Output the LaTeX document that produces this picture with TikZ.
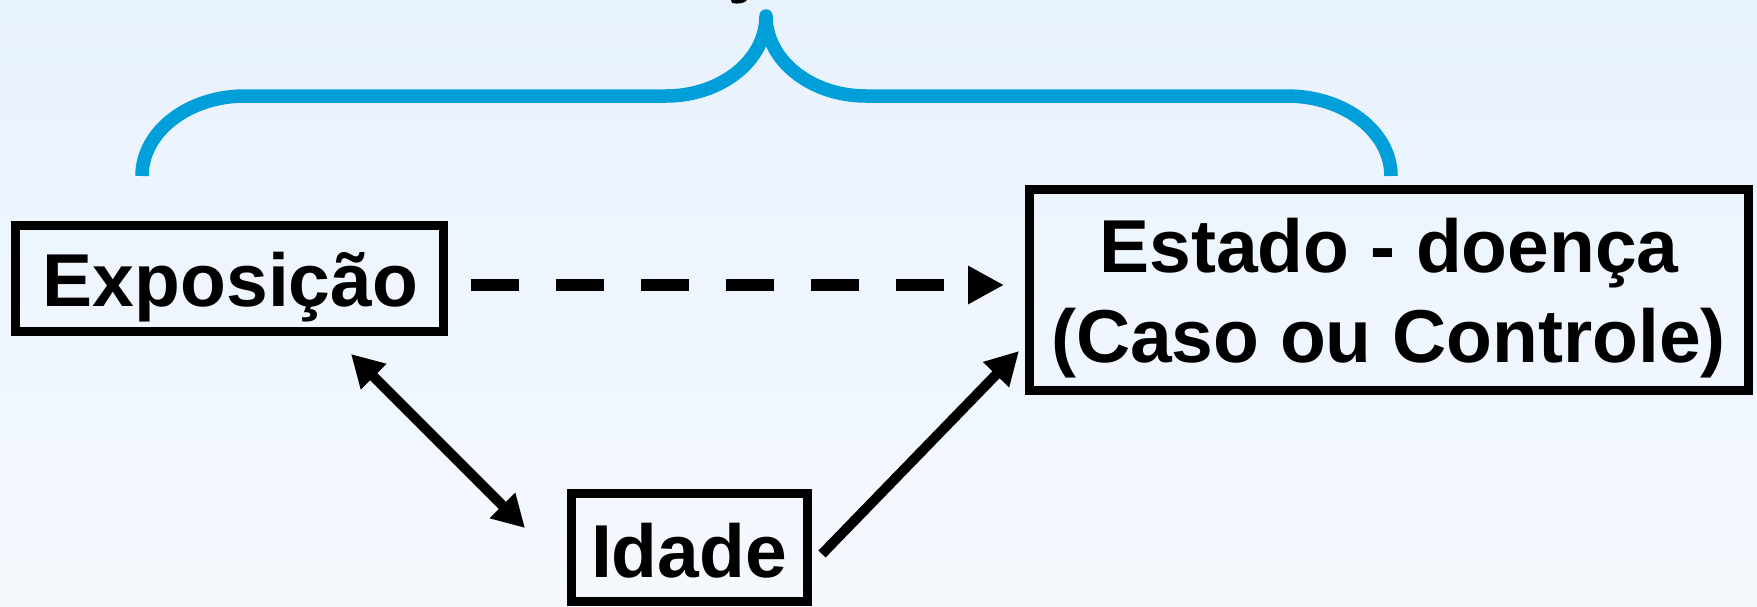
\documentclass[tikz,border=0pt]{standalone}
\usepackage{fontspec}
\setmainfont{Liberation Sans}
\usetikzlibrary{arrows.meta,calc}
\definecolor{brk}{RGB}{0,159,218}
\definecolor{bgtop}{RGB}{232,242,253}
\definecolor{bgbot}{RGB}{245,249,254}
\begin{document}
\begin{tikzpicture}[x=1pt,y=-1pt,
  box/.style={draw=black, line width=9pt, inner sep=0pt},
  lbl/.style={inner sep=0pt, anchor=base, font=\fontsize{75}{90}\selectfont\bfseries},
  arr/.style={line width=10pt, -{Triangle[length=33pt,width=34pt]}},
  dblarr/.style={line width=10pt, {Triangle[length=32pt,width=34pt]}-{Triangle[length=32pt,width=34pt]}},
  dasharr/.style={line width=12pt, dash pattern=on 48pt off 37pt, -{Triangle[length=36pt,width=36pt]}},
  bracket/.style={draw=brk, line width=13.5pt, line join=round}]
\useasboundingbox (0,0) rectangle (1757,606);
\shade[top color=bgtop, bottom color=bgbot] (0,0) rectangle (1757,606);

% cut-off glyph fragment at the top edge
\fill[black] (731,0) -- (747,0) .. controls (745,3) and (738,4.5) .. (732,3) -- cycle;

% bracket
\draw[bracket] (142,176) .. controls (142,131.8) and (188.1,96) .. (245,96) -- (666,96)
  .. controls (721.2,96) and (766,60.2) .. (766,16)
  .. controls (766,60.2) and (810.8,96) .. (866,96) -- (1287,96)
  .. controls (1344.4,96) and (1391,131.8) .. (1391,176);

% boxes
\node[box, minimum width=428pt, minimum height=106pt] (expo) at (229.5,278.5) {};
\node[box, minimum width=719pt, minimum height=201pt] (estado) at (1389,290) {};
\node[box, minimum width=236pt, minimum height=108pt] (idade) at (689.5,547.5) {};

% labels
\node[lbl] (texpo) at (230.5,306) {Exposição};
\node[lbl] (test1) at (1389,272) {Estado - doença};
\node[lbl] (test2) at (1388.5,362) {(Caso ou Controle)};
\node[lbl] (tidade) at (689,577) {Idade};

% connectors
\draw[dasharr, shorten <=23pt, shorten >=21pt] (expo.east |- 0,285) -- (estado.west |- 0,285);
\draw[dblarr] ($(expo.south east)+(-97,18)$) -- ($(idade.north west)+(-42,39)$);
\draw[arr] ($(idade.north east)+(10,65)$) -- ($(estado.south west)+(-6,-44)$);
\end{tikzpicture}
\end{document}
